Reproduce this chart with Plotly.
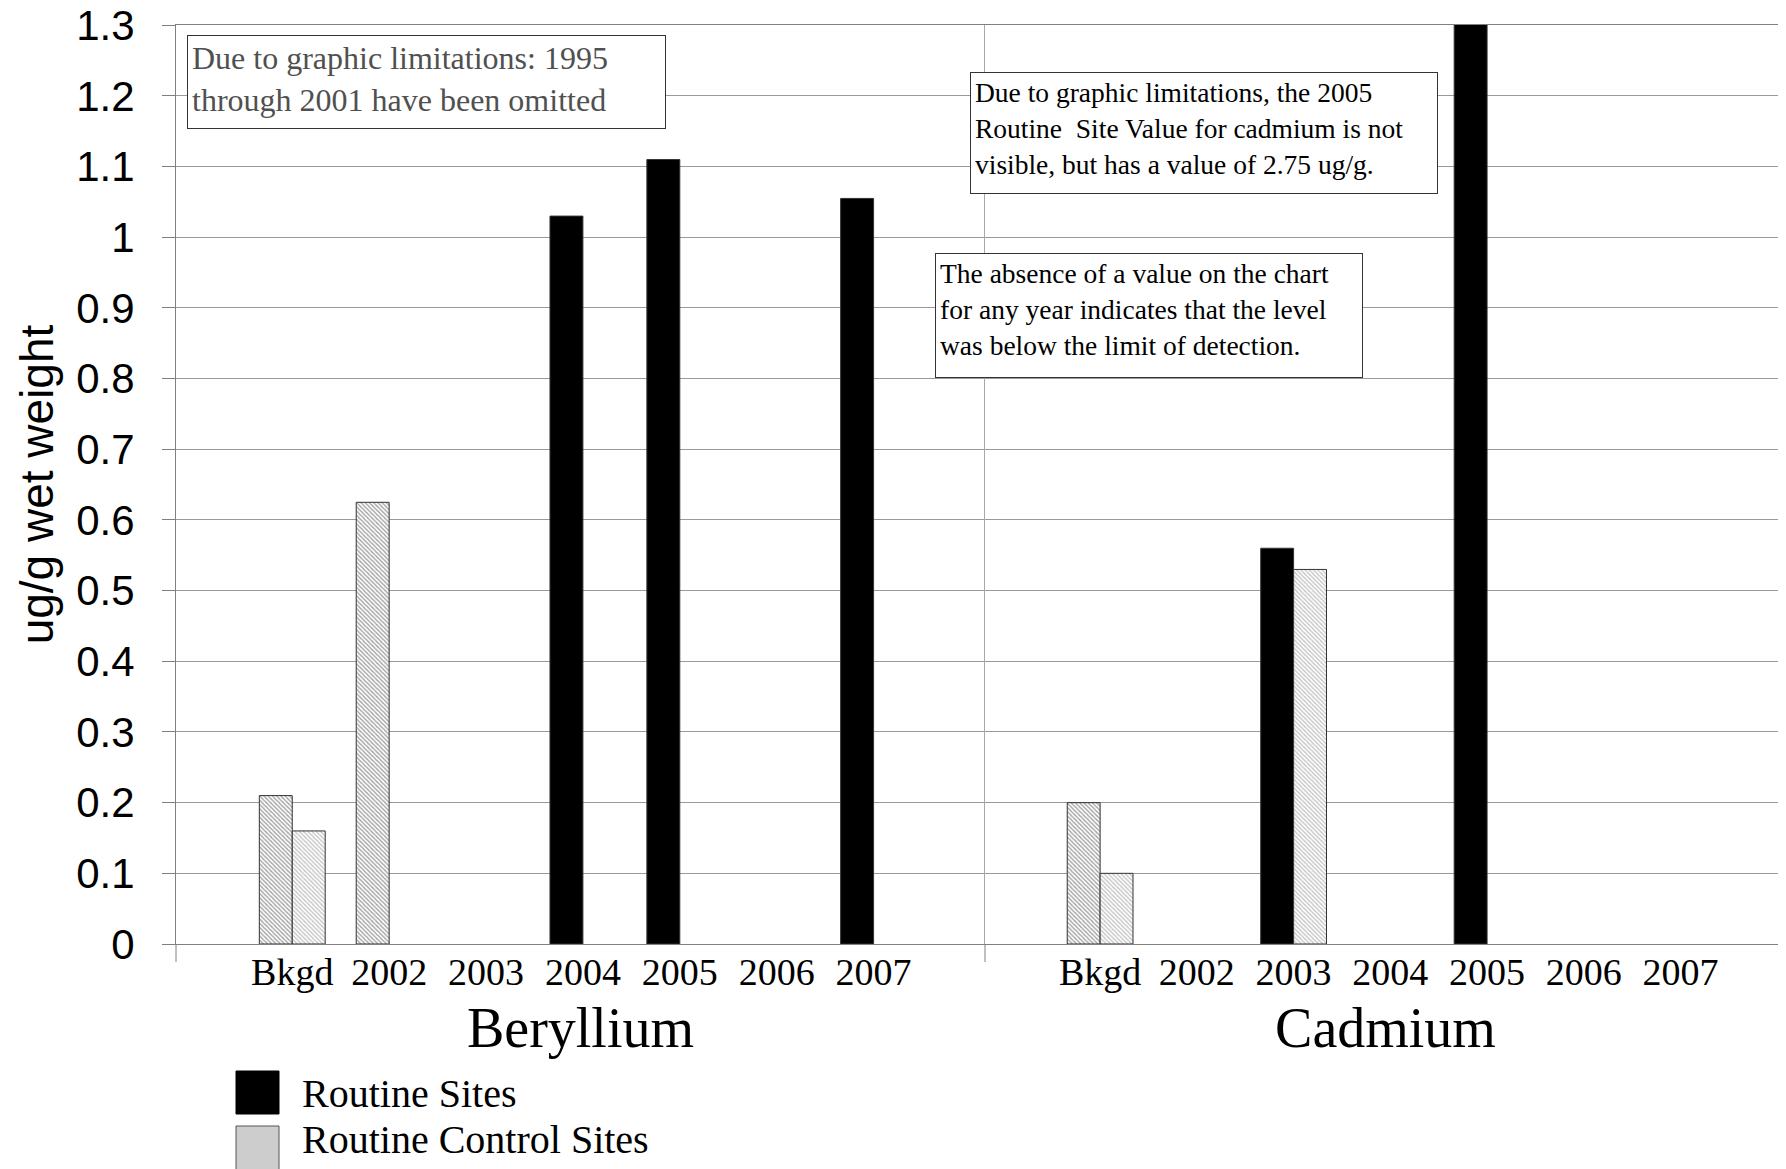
import plotly.graph_objects as go
from plotly.subplots import make_subplots

categories = ["Bkgd", "2002", "2003", "2004", "2005", "2006", "2007"]

# left-hand bar / right-hand bar of each year group (ug/g wet weight)
be_first = [0.21, 0.625, None, 1.03, 1.11, None, 1.055]
be_second = [0.16, None, None, None, None, None, None]
cd_first = [0.20, None, 0.56, None, 2.75, None, None]
cd_second = [0.10, None, 0.53, None, None, None, None]

# left-hand bars that are control-site values (drawn hatched)
be_first_control = [True, True, False, False, False, False, False]
cd_first_control = [True, False, False, False, False, False, False]

y_ticks = [0, 0.1, 0.2, 0.3, 0.4, 0.5, 0.6, 0.7, 0.8, 0.9, 1.0, 1.1, 1.2, 1.3]
y_tick_text = ["0", "0.1", "0.2", "0.3", "0.4", "0.5", "0.6", "0.7", "0.8",
               "0.9", "1", "1.1", "1.2", "1.3"]

OFF = 8                      # page body margin
W, H = 1786 - OFF, 1169 - OFF
L, R, T, B = 176 - OFF, 0, 25 - OFF, 225
PW, PH = W - L - R, H - T - B

SERIF = "Liberation Serif"
SANS = "Liberation Sans"
GRID = "#9a9a9a"
AXIS = "#808080"
HATCH = dict(shape="\\", fgcolor="#8a8a8a", bgcolor="white", size=3, solidity=0.45)


def px_x(x):
    # screen pixel -> paper fraction
    return (x - OFF - L) / PW


def px_y(y):
    return (H - B - (y - OFF)) / PH


def first_marker(flags):
    return dict(
        color=["white" if f else "black" for f in flags],
        pattern=dict(HATCH, shape=["\\" if f else "" for f in flags]),
        line=dict(color="#333333", width=1),
    )


second_marker = dict(color="white", pattern=HATCH, line=dict(color="#333333", width=1))

fig = make_subplots(rows=1, cols=2, shared_yaxes=True, horizontal_spacing=0,
                    column_widths=[809, 801])

for col, first, second, flags in [(1, be_first, be_second, be_first_control),
                                  (2, cd_first, cd_second, cd_first_control)]:
    fig.add_trace(go.Bar(x=categories, y=first, name="Routine Sites",
                         marker=first_marker(flags), showlegend=False), row=1, col=col)
    fig.add_trace(go.Bar(x=categories, y=second, name="Routine Control Sites",
                         marker=second_marker, showlegend=False), row=1, col=col)

fig.update_layout(
    width=W, height=H,
    margin=dict(l=L, r=R, t=T, b=B, autoexpand=False),
    paper_bgcolor="white", plot_bgcolor="white",
    barmode="group", bargap=0.32, bargroupgap=0,
    font=dict(family=SERIF, color="black"),
    showlegend=False,
)

xcommon = dict(type="category", showgrid=False, showline=True, mirror=True,
               automargin=False, linecolor=AXIS, linewidth=1, ticks="",
               ticklabelstandoff=-6,
               tickfont=dict(family=SERIF, size=38, color="black"),
               title_font=dict(family=SERIF, size=56, color="black"), title_standoff=16)
fig.update_xaxes(xcommon, range=[-1.2, 7.15], title_text="Beryllium", row=1, col=1)
fig.update_xaxes(xcommon, range=[-1.19, 7.09], title_text="Cadmium", row=1, col=2)

fig.update_yaxes(range=[0, 1.3004], tickvals=y_ticks, ticktext=y_tick_text,
                 showgrid=True, gridcolor=GRID, gridwidth=1, zeroline=False,
                 showline=True, linecolor=AXIS, linewidth=1, automargin=False)
fig.update_yaxes(ticks="outside", ticklen=13, tickcolor=AXIS, ticklabelstandoff=19,
                 ticklabeloverflow="allow",
                 tickfont=dict(family=SANS, size=42, color="black"),
                 title_text="ug/g wet weight", title_standoff=8,
                 title_font=dict(family=SANS, size=46, color="black"), row=1, col=1)
fig.update_yaxes(ticks="", showticklabels=False, linecolor="#a8a8a8", row=1, col=2)

# short extensions of the left axis and the divider below the baseline
for xr in ["x domain", "x2 domain"]:
    fig.add_shape(type="line", xref=xr, yref="paper", x0=0, x1=0,
                  y0=0, y1=-18 / PH, line=dict(color=AXIS, width=1))

# legend
fig.add_shape(type="rect", xref="paper", yref="paper",
              x0=px_x(236), x1=px_x(279), y0=px_y(1114), y1=px_y(1071),
              fillcolor="black", line=dict(color="black", width=1))
fig.add_shape(type="rect", xref="paper", yref="paper",
              x0=px_x(236), x1=px_x(279), y0=px_y(1172), y1=px_y(1126),
              fillcolor="#cdcdcd", line=dict(color="#555555", width=1))
for label, yc in [("Routine Sites", 1093), ("Routine Control Sites", 1139)]:
    fig.add_annotation(text=label, xref="paper", yref="paper", x=px_x(300), y=px_y(yc),
                       xanchor="left", yanchor="middle", showarrow=False,
                       font=dict(family=SERIF, size=40, color="black"))

# text boxes: text, left, top, outer width, outer height, font size, colour
notes = [
    ("Due to graphic limitations: 1995<br>through 2001 have been omitted",
     187, 35, 479, 94, 32, "#505050"),
    ("Due to graphic limitations, the 2005<br>Routine  Site Value for cadmium is not"
     "<br>visible, but has a value of 2.75 ug/g.",
     970, 72, 468, 122, 27.5, "black"),
    ("The absence of a value on the chart<br>for any year indicates that the level"
     "<br>was below the limit of detection.",
     935, 253, 428, 125, 27.5, "black"),
]
for text, x0, y0, w, h, fs, color in notes:
    fig.add_annotation(text=text, xref="paper", yref="paper", x=px_x(x0), y=px_y(y0),
                       xanchor="left", yanchor="top", showarrow=False,
                       width=w - 10, height=h - 10, align="left", valign="top",
                       borderpad=4, borderwidth=1, bordercolor="#333333", bgcolor="white",
                       font=dict(family=SERIF, size=fs, color=color))

fig.write_html("out.html")
